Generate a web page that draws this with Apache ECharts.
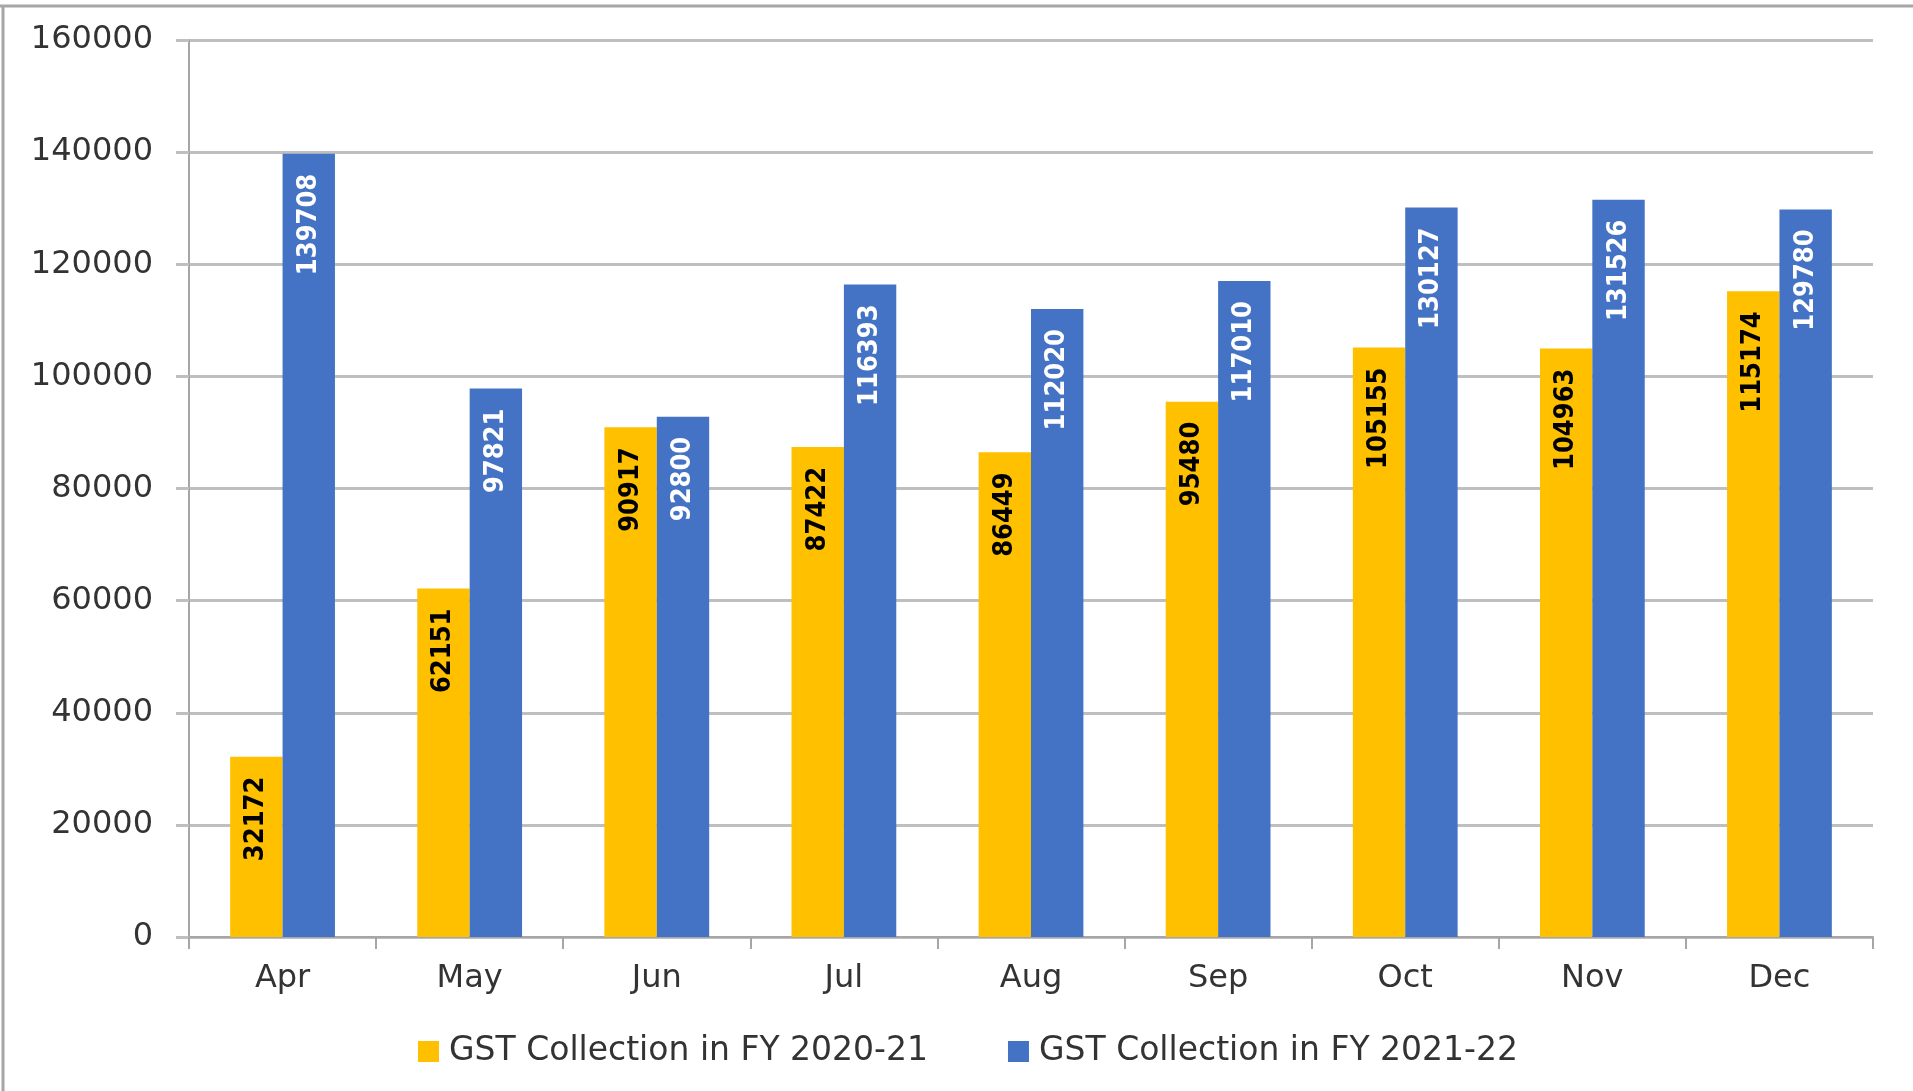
<!DOCTYPE html>
<html>
<head>
<meta charset="utf-8">
<script src="https://cdn.jsdelivr.net/npm/echarts@6/dist/echarts.min.js"></script>
<style>html,body{margin:0;padding:0;background:#fff;}#c{width:1913px;height:1091px;}</style>
</head>
<body>
<div id="c"></div>
<script>
var categories = ['Apr','May','Jun','Jul','Aug','Sep','Oct','Nov','Dec'];
var seriesNames = ['GST Collection in FY 2020-21','GST Collection in FY 2021-22'];
var fy2021 = [32172, 62151, 90917, 87422, 86449, 95480, 105155, 104963, 115174];
var fy2122 = [139708, 97821, 92800, 116393, 112020, 117010, 130127, 131526, 129780];
var yTicks = {min: 0, max: 160000, interval: 20000};

var chart = echarts.init(document.getElementById('c'));
var labelFont = '"DejaVu Sans Condensed","Liberation Sans",sans-serif';
function lbl(color){
  return {show:true, rotate:90, position:'insideTop', align:'right', verticalAlign:'middle', distance:20,
    color:color, fontFamily:labelFont, fontWeight:'bold', fontSize:27};
}
chart.setOption({
  backgroundColor:'#fff',
  animation:false,
  graphic:[
    {type:'line', shape:{x1:0,y1:6,x2:1913,y2:6}, style:{stroke:'#A6A6A6', lineWidth:3}},
    {type:'line', shape:{x1:3,y1:6,x2:3,y2:1091}, style:{stroke:'#A6A6A6', lineWidth:3}}
  ],
  grid:{left:189, right:40, top:40, bottom:154, containLabel:false},
  legend:{
    data:seriesNames, left:413, top:1030, itemWidth:21, itemHeight:21, itemGap:80, icon:'rect',
    textStyle:{fontFamily:'"DejaVu Sans",sans-serif', fontSize:33, color:'#333333', padding:[0,0,0,5]}
  },
  xAxis:{
    type:'category', data:categories, boundaryGap:true,
    axisLine:{lineStyle:{color:'#A6A6A6', width:2}},
    axisTick:{show:true, length:12, lineStyle:{color:'#A6A6A6', width:2}},
    axisLabel:{margin:26, fontFamily:'"DejaVu Sans",sans-serif', fontSize:32, color:'#333333'}
  },
  yAxis:{
    type:'value', min:yTicks.min, max:yTicks.max, interval:yTicks.interval,
    axisLine:{show:true, lineStyle:{color:'#A6A6A6', width:2}},
    axisTick:{show:true, length:13, lineStyle:{color:'#BFBFBF', width:3}},
    splitLine:{lineStyle:{color:'#BFBFBF', width:3}},
    axisLabel:{margin:36, fontFamily:'"DejaVu Sans",sans-serif', fontSize:32, color:'#333333',
      formatter:function(v){return String(v);}}
  },
  series:[
    {name:seriesNames[0], type:'bar', data:fy2021, barGap:'0%', barCategoryGap:'44%',
     itemStyle:{color:'#FFC000'}, label:lbl('#000')},
    {name:seriesNames[1], type:'bar', data:fy2122, barGap:'0%', barCategoryGap:'44%',
     itemStyle:{color:'#4472C4'}, label:lbl('#fff')}
  ]
});
</script>
</body>
</html>
